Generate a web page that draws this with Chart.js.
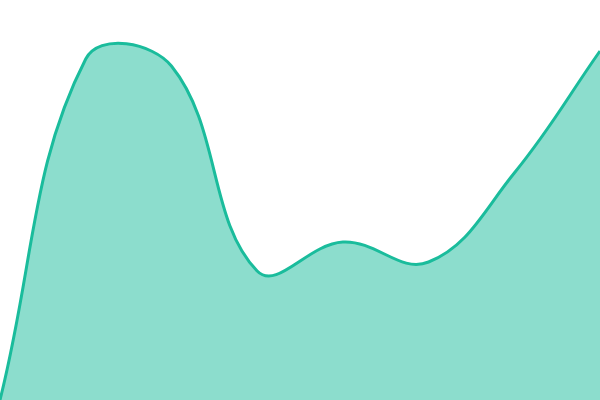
<!DOCTYPE html>
<html>
<head>
<meta charset="utf-8">
<script src="https://cdn.jsdelivr.net/npm/chart.js@4/dist/chart.umd.min.js"></script>
<style>
html,body{margin:0;padding:0;background:#fff;}
#wrap{width:600px;height:400px;}
</style>
</head>
<body>
<div id="wrap"><canvas id="c" width="600" height="400"></canvas></div>
<script>
const labels = ["1","2","3","4","5","6","7","8"];
const values = [0, 341, 334, 129, 158, 138, 227, 349];
const yMin = 0;
const yMax = 400;

new Chart(document.getElementById('c'), {
  type: 'line',
  data: {
    labels: labels,
    datasets: [{
      data: values,
      borderColor: 'rgb(26,188,156)',
      backgroundColor: 'rgba(26,188,156,0.5)',
      borderWidth: 3,
      fill: 'origin',
      tension: 0.4,
      pointRadius: 0,
      pointHoverRadius: 0
    }]
  },
  options: {
    responsive: false,
    animation: false,
    maintainAspectRatio: false,
    layout: { padding: 0 },
    plugins: { legend: { display: false }, tooltip: { enabled: false } },
    scales: {
      x: { display: false, offset: false },
      y: { display: false, min: yMin, max: yMax }
    }
  }
});
</script>
</body>
</html>
